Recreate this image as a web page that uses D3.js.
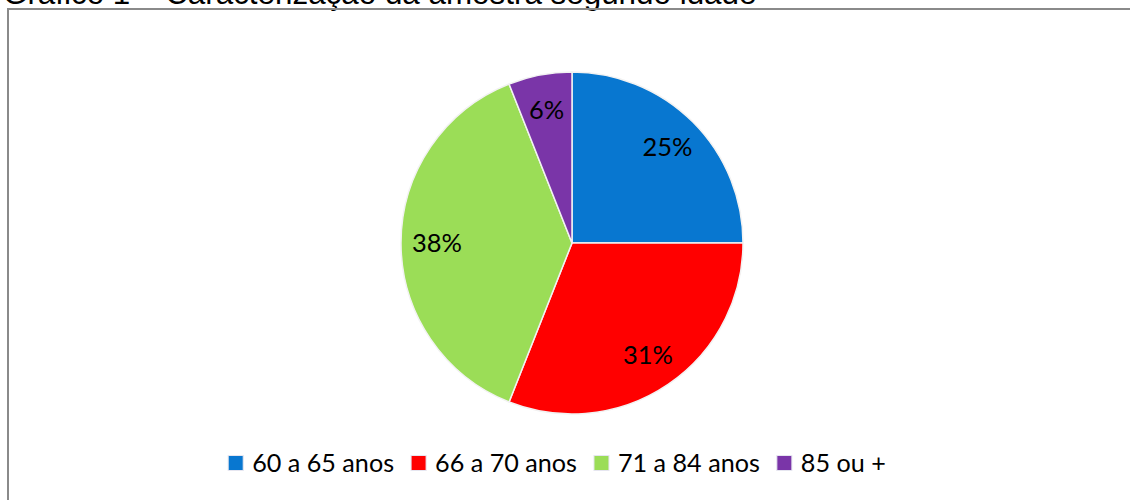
<!DOCTYPE html>
<html>
<head>
<meta charset="utf-8">
<script src="https://cdn.jsdelivr.net/npm/d3@7"></script>
<style>
  body { margin: 0; background: #fff; }
  svg { display: block; }
</style>
</head>
<body>
<div class="chart"></div>
<script>
var categories = ['60 a 65 anos', '66 a 70 anos', '71 a 84 anos', '85 ou +'];
var values = [25, 31, 38, 6];
var labels = ['25%', '31%', '38%', '6%'];
var colors = ['#0877d0', '#ff0000', '#9bdd57', '#7a35a8'];
var title = 'Gráfico 1 – Caracterização da amostra segundo idade';

var fullWidth = 1130;
var fullHeight = 500;
var cx = 572, cy = 243, radius = 171;
var fontFamily = 'Lato, "Open Sans", sans-serif';

var svg = d3.select('.chart')
  .append('svg')
  .attr('width', fullWidth)
  .attr('height', fullHeight);

// size a font so that a sample string gets a given width
function fitSize(sample, target, family) {
  var t = svg.append('text')
    .style('font-family', family)
    .style('font-size', '20px')
    .text(sample);
  var w = t.node().getComputedTextLength();
  t.remove();
  return 20 * target / w;
}

// title sits mostly above the page edge, only its bottom shows
svg.append('text')
  .attr('x', 3)
  .attr('y', 4)
  .style('font-family', 'Liberation Sans, Arial, sans-serif')
  .style('font-size', fitSize(title, 754, 'Liberation Sans, Arial, sans-serif') + 'px')
  .style('fill', '#000')
  .text(title);

// chart frame
svg.append('rect')
  .attr('x', 8)
  .attr('y', 9)
  .attr('width', fullWidth + 20)
  .attr('height', fullHeight + 20)
  .style('fill', 'none')
  .style('stroke', '#8a8a8a')
  .style('stroke-width', 2);

var pie = d3.pie().sort(null).value(d => d);
var arcs = pie(values);

var arc = d3.arc().innerRadius(0).outerRadius(radius);
var labelArc = d3.arc().innerRadius(radius * 0.79).outerRadius(radius * 0.79);

var g = svg.append('g')
  .attr('transform', `translate(${cx}, ${cy})`);

g.selectAll('.slice')
  .data(arcs)
  .enter()
  .append('path')
  .attr('class', 'slice')
  .attr('d', arc)
  .style('fill', (d, i) => colors[i])
  .style('stroke', '#f2f2f2')
  .style('stroke-width', 1.5);

var labelSize = fitSize('25%', 50, fontFamily);
g.selectAll('.slice-label')
  .data(arcs)
  .enter()
  .append('text')
  .attr('class', 'slice-label')
  .attr('transform', d => `translate(${labelArc.centroid(d)})`)
  .attr('dy', '0.35em')
  .style('text-anchor', 'middle')
  .style('font-family', fontFamily)
  .style('font-size', labelSize + 'px')
  .style('fill', '#000')
  .text((d, i) => labels[i]);

// legend, centred under the pie
var legendSize = fitSize('60 a 65 anos', 142, fontFamily);
var legend = svg.append('g').attr('class', 'legend');
var box = 15, gapBox = 9, gapItem = 17, legendY = 463;
var items = legend.selectAll('.item')
  .data(categories)
  .enter()
  .append('g')
  .attr('class', 'item');

items.append('rect')
  .attr('y', legendY - box / 2)
  .attr('width', box)
  .attr('height', box)
  .style('fill', (d, i) => colors[i])
  .style('stroke', '#e6e6f0')
  .style('stroke-width', 1);

items.append('text')
  .attr('x', box + gapBox)
  .attr('y', legendY)
  .attr('dy', '0.35em')
  .style('font-family', fontFamily)
  .style('font-size', legendSize + 'px')
  .style('fill', '#000')
  .text(d => d);

var xPos = 0;
items.each(function() {
  var w = box + gapBox + d3.select(this).select('text').node().getComputedTextLength();
  d3.select(this).attr('transform', `translate(${xPos}, 0)`);
  xPos += w + gapItem;
});
var legendWidth = xPos - gapItem;
legend.attr('transform', `translate(${557 - legendWidth / 2}, 0)`);
</script>
</body>
</html>
